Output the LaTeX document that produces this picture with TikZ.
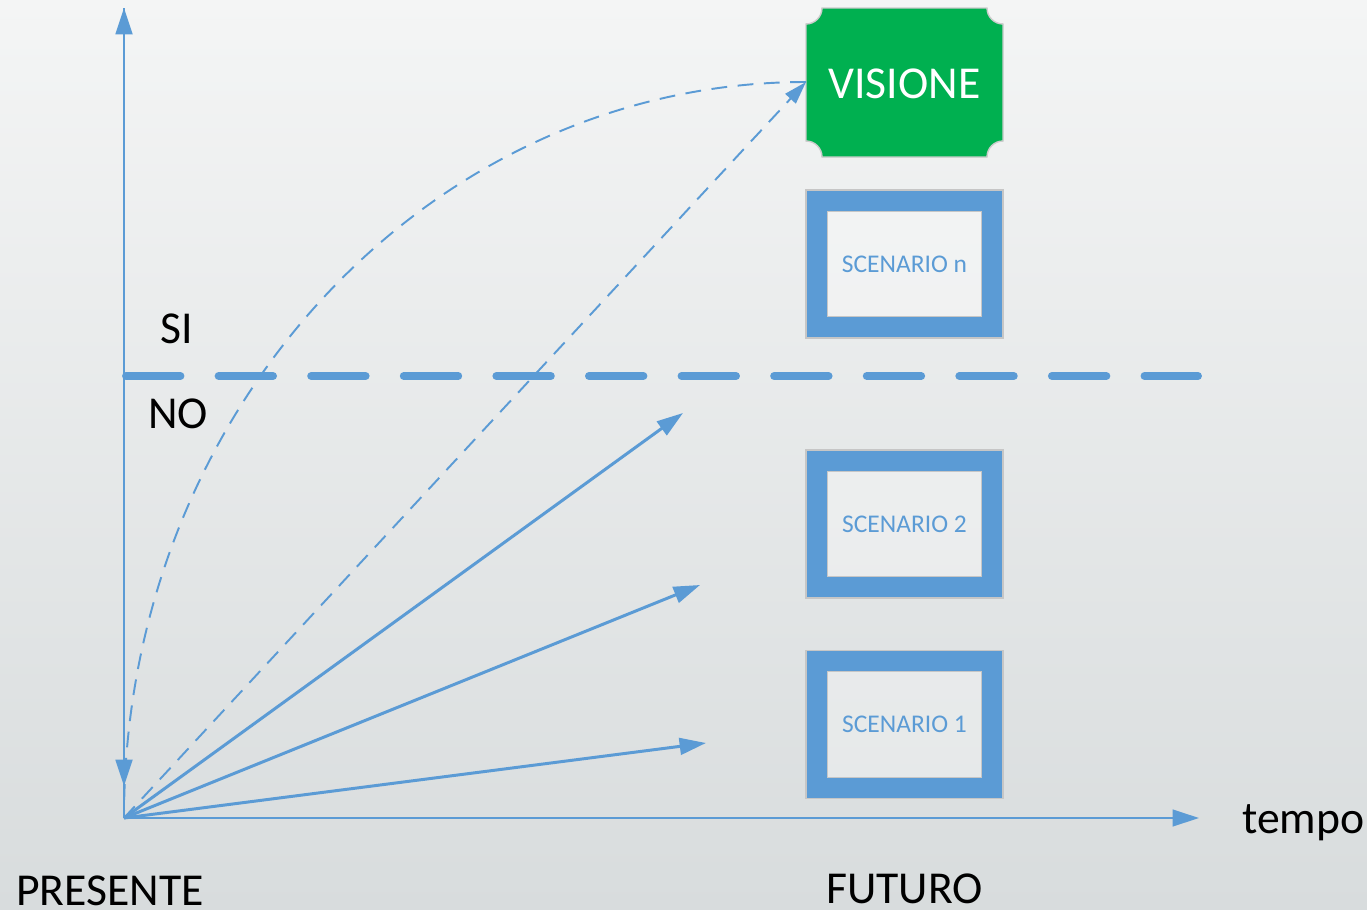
\documentclass[tikz,border=0pt]{standalone}
\usepackage{fontspec}
\setmainfont{Carlito}
\usepackage{tikz}
\usetikzlibrary{arrows.meta,calc}
\definecolor{blu}{HTML}{5B9BD5}
\definecolor{verde}{HTML}{00B050}
\definecolor{fondoalto}{HTML}{F4F5F5}
\definecolor{fondobasso}{HTML}{D8DCDD}

\tikzset{
  asse/.style={blu, line width=1.6pt, -{Triangle[length=15pt,width=9.5pt]}},
  freccia/.style={blu, line width=1.7pt, -{Triangle[length=15pt,width=9.5pt]}},
  trattino/.style={blu, line width=1.1pt, dash pattern=on 9pt off 6pt},
  etichetta/.style={anchor=base, inner sep=0pt, font=\fontsize{26}{30}\selectfont},
  scenario/.style={draw=gray!45, line width=0.6pt, double=blu, double distance=0.4cm,
    fill=white, fill opacity=0.3, text opacity=1,
    minimum width=3.52cm, minimum height=2.54cm,
    text=blu, font=\fontsize{14.5}{17}\selectfont}
}

\begin{document}
\begin{tikzpicture}[x=0.02cm, y=-0.02cm]
% sfondo sfumato
\shade[top color=fondoalto, bottom color=fondobasso] (0,0) rectangle (1367,910);
\useasboundingbox (0,0) rectangle (1367,910);

% assi
\coordinate (O) at (124,818);
\coordinate (ytop) at (124,8);
\coordinate (ygiu) at (124,786);
\coordinate (xfine) at (1199,818);
\draw[asse] (O) -- (ytop);
\draw[asse] (ytop) -- (ygiu);
\draw[asse, line width=1.2pt] (O) -- (xfine);

% soglia SI / NO
\coordinate (s1) at (126,376);
\coordinate (s2) at (1198,376);
\draw[blu, line width=4.5pt, line cap=round, dash pattern=on 31pt off 21.7pt] (s1) -- (s2);
\node[etichetta] (si) at (177,343) {SI};
\node[etichetta] (no) at (178,428) {NO};

% visione
\fill[verde, draw=gray!40, line width=0.8pt]
  (822,8) -- (987,8) arc[start angle=180, end angle=90, radius=16]
  -- (1003,141) arc[start angle=270, end angle=180, radius=16]
  -- (822,157) arc[start angle=0, end angle=-90, radius=16]
  -- (806,24) arc[start angle=90, end angle=0, radius=16] -- cycle;
\node[etichetta, text=white] (visione) at (904.5,98) {VISIONE};
\coordinate (vis) at (806,82);

% scenari
\node[scenario] (scn) at (904.5,264) {SCENARIO n};
\node[scenario] (sc2) at (904.5,524) {SCENARIO 2};
\node[scenario] (sc1) at (904.5,724.5) {SCENARIO 1};

% percorsi
\coordinate (a1) at (683,413);
\coordinate (a2) at (700,585);
\coordinate (a3) at (706,743);
\draw[freccia] (O) -- (a1);
\draw[freccia] (O) -- (a2);
\draw[freccia] (O) -- (a3);
\draw[trattino, -{Triangle[length=13pt,width=8pt]}] (O) -- (vis);
\draw[trattino] (vis) .. controls (430,82) and (124,410) .. (O);

% testi
\node[etichetta, anchor=base west] (tempo) at (1242,833) {tempo};
\node[etichetta] (presente) at (110,905) {PRESENTE};
\node[etichetta] (futuro) at (904.5,903) {FUTURO};
\end{tikzpicture}
\end{document}
